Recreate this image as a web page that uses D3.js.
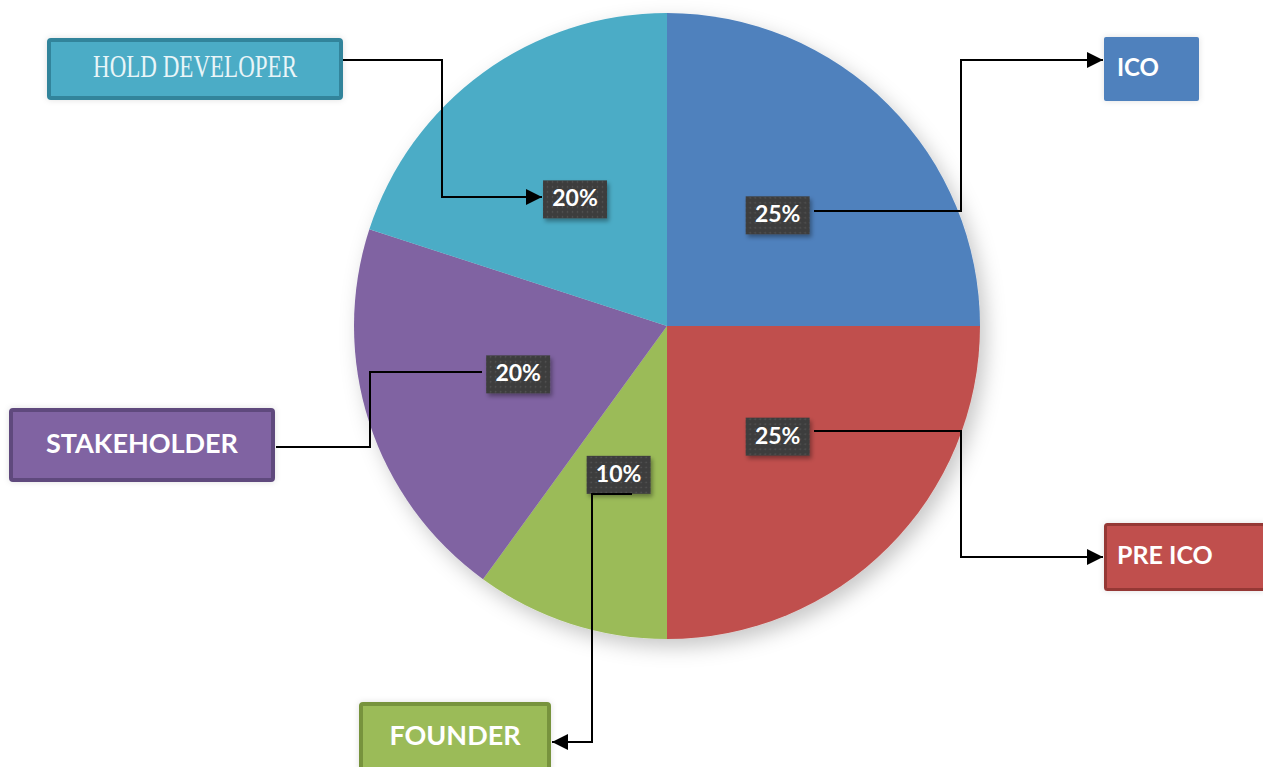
<!DOCTYPE html>
<html>
<head>
<meta charset="utf-8">
<script src="https://cdn.jsdelivr.net/npm/d3@7"></script>
<style>
  html, body { margin: 0; padding: 0; background: #ffffff; }
  svg { display: block; }
</style>
</head>
<body>
<div id="okvir"></div>
<script>
// podaci
const kategorije = ["ICO", "PRE ICO", "FOUNDER", "STAKEHOLDER", "HOLD DEVELOPER"];
const vrijednosti = [25, 25, 10, 20, 20];
const oznake = ["25%", "25%", "10%", "20%", "20%"];

// boje
const boje = ["#4f81bd", "#c0504d", "#9bbb59", "#8064a2", "#4bacc6"];
const rubovi = ["#4f81bd", "#953735", "#77933c", "#5f4a7d", "#31849b"];

// raspored kutija s nazivima (x, y, sirina, visina, poravnanje)
const kutije = [
  { x: 1104, y: 37,  w: 95,  h: 64, rub: 0, lijevo: true,  vel: 24 },
  { x: 1104, y: 523, w: 162, h: 68, rub: 3, lijevo: true,  vel: 25 },
  { x: 359,  y: 702, w: 192, h: 70, rub: 4, lijevo: false, vel: 27 },
  { x: 9,    y: 408, w: 266, h: 74, rub: 4, lijevo: false, vel: 27 },
  { x: 47,   y: 38,  w: 296, h: 62, rub: 4, lijevo: false, vel: 32 }
];

// spojnice (tocke loma), strelica na kraju ili ne
const spojnice = [
  { t: [[814, 211], [961, 211], [961, 60], [1103, 60]], strelica: true },
  { t: [[814, 431], [961, 431], [961, 557], [1103, 557]], strelica: true },
  { t: [[632, 494], [592, 494], [592, 742], [552, 742]], strelica: true },
  { t: [[482, 372], [370, 372], [370, 447], [276, 447]], strelica: false },
  { t: [[343, 60], [442, 60], [442, 197], [542, 197]], strelica: true }
];

const dimenzije = { sirina: 1263, visina: 767, cx: 667, cy: 326, r: 313 };

const okvir = d3.select("#okvir")
  .append("svg")
    .attr("width", dimenzije.sirina)
    .attr("height", dimenzije.visina);

const defs = okvir.append("defs");

const sjenaPita = defs.append("filter")
  .attr("id", "sjenaPita")
  .attr("x", "-20%").attr("y", "-20%")
  .attr("width", "140%").attr("height", "140%");
sjenaPita.append("feDropShadow")
  .attr("dx", 6).attr("dy", 8)
  .attr("stdDeviation", 10)
  .attr("flood-color", "#000")
  .attr("flood-opacity", 0.22);

const sjenaMala = defs.append("filter")
  .attr("id", "sjenaMala")
  .attr("x", "-30%").attr("y", "-30%")
  .attr("width", "160%").attr("height", "160%");
sjenaMala.append("feDropShadow")
  .attr("dx", 2).attr("dy", 3)
  .attr("stdDeviation", 2)
  .attr("flood-color", "#000")
  .attr("flood-opacity", 0.35);

const sjenaKutija = defs.append("filter")
  .attr("id", "sjenaKutija")
  .attr("x", "-10%").attr("y", "-20%")
  .attr("width", "120%").attr("height", "140%");
sjenaKutija.append("feDropShadow")
  .attr("dx", 0).attr("dy", 0)
  .attr("stdDeviation", 3)
  .attr("flood-color", "#000")
  .attr("flood-opacity", 0.12);

// tockasti uzorak za kutije s postocima
const uzorak = defs.append("pattern")
  .attr("id", "tockice")
  .attr("width", 5).attr("height", 5)
  .attr("patternUnits", "userSpaceOnUse");
uzorak.append("rect").attr("width", 5).attr("height", 5).attr("fill", "#3d3d3d");
uzorak.append("circle").attr("cx", 2.5).attr("cy", 2.5).attr("r", 0.8).attr("fill", "#5a5a5a");

defs.append("marker")
  .attr("id", "strelica")
  .attr("viewBox", "0 0 10 10")
  .attr("refX", 10).attr("refY", 5)
  .attr("markerWidth", 8).attr("markerHeight", 8)
  .attr("markerUnits", "strokeWidth")
  .attr("orient", "auto")
  .append("path")
    .attr("d", "M0,0 L10,5 L0,10 Z")
    .attr("fill", "#000");

const podatci = kategorije.map((k, i) => ({
  kategorija: k,
  vrijednost: vrijednosti[i],
  oznaka: oznake[i],
  boja: boje[i]
}));

const pita = d3.pie()
  .sort(null)
  .value(d => d.vrijednost);

const luk = d3.arc()
  .innerRadius(0)
  .outerRadius(dimenzije.r);

const granice = okvir.append("g")
  .attr("transform", `translate(${dimenzije.cx},${dimenzije.cy})`);

const isjecci = pita(podatci);

granice.append("g")
    .attr("filter", "url(#sjenaPita)")
  .selectAll("path")
  .data(isjecci)
  .join("path")
    .attr("d", luk)
    .attr("fill", d => d.data.boja);

// kutije s nazivima
const naziviG = okvir.append("g");
podatci.forEach((d, i) => {
  const k = kutije[i];
  const g = naziviG.append("g");
  g.append("rect")
    .attr("x", k.x + k.rub / 2)
    .attr("y", k.y + k.rub / 2)
    .attr("width", k.w - k.rub)
    .attr("height", k.h - k.rub)
    .attr("rx", 2)
    .attr("fill", d.boja)
    .attr("stroke", rubovi[i])
    .attr("stroke-width", k.rub)
    .attr("filter", "url(#sjenaKutija)");

  const tekst = g.append("text")
    .attr("x", k.lijevo ? k.x + 13 : k.x + k.w / 2)
    .attr("y", k.y + k.h / 2 + 1)
    .attr("dominant-baseline", "middle")
    .attr("text-anchor", k.lijevo ? "start" : "middle")
    .attr("font-size", k.vel)
    .text(d.kategorija);

  if (d.kategorija === "HOLD DEVELOPER") {
    tekst
      .attr("font-family", "'Liberation Serif', 'DejaVu Serif', serif")
      .attr("fill", "#e9f5f8")
      .attr("textLength", 204)
      .attr("lengthAdjust", "spacingAndGlyphs");
  } else {
    tekst
      .attr("font-family", "Lato, 'Open Sans', sans-serif")
      .attr("font-weight", "bold")
      .attr("fill", "#ffffff");
  }
});

// spojnice
okvir.append("g")
  .selectAll("polyline")
  .data(spojnice)
  .join("polyline")
    .attr("points", d => d.t.map(p => p.join(",")).join(" "))
    .attr("fill", "none")
    .attr("stroke", "#000")
    .attr("stroke-width", 2)
    .attr("marker-end", d => d.strelica ? "url(#strelica)" : null);

// oznake postotaka na centroidima
const oznakeG = granice.append("g")
  .selectAll("g")
  .data(isjecci)
  .join("g")
    .attr("transform", d => `translate(${luk.centroid(d)})`);

oznakeG.append("rect")
  .attr("x", -32)
  .attr("y", -19)
  .attr("width", 64)
  .attr("height", 38)
  .attr("fill", "url(#tockice)")
  .attr("filter", "url(#sjenaMala)");

oznakeG.append("text")
  .attr("text-anchor", "middle")
  .attr("dominant-baseline", "middle")
  .attr("y", 1)
  .attr("font-family", "Lato, 'Open Sans', sans-serif")
  .attr("font-weight", "bold")
  .attr("font-size", 23)
  .attr("fill", "#ffffff")
  .text(d => d.data.oznaka);
</script>
</body>
</html>
